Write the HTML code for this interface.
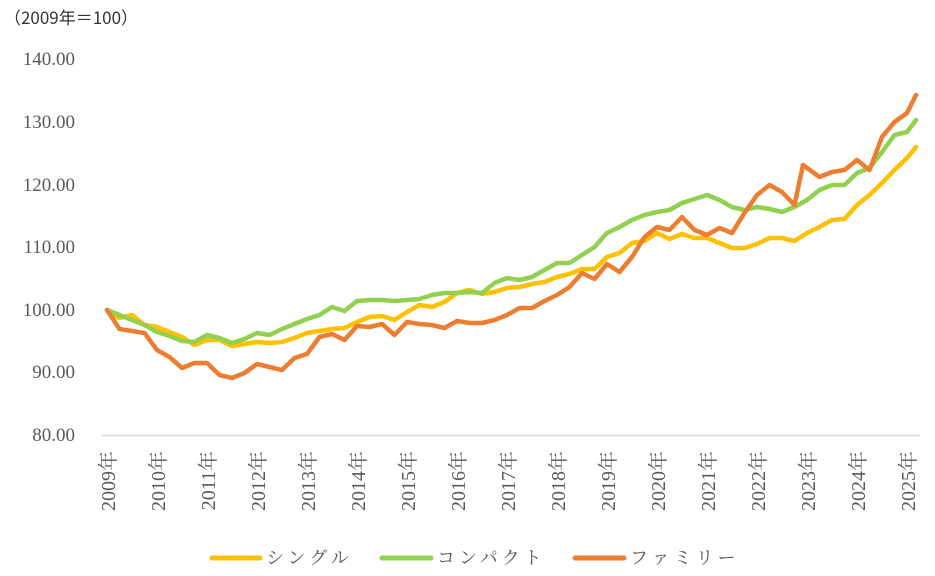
<!DOCTYPE html>
<html><head><meta charset="utf-8"><style>
html,body{margin:0;padding:0;background:#fff;}
svg{display:block;}
</style></head><body>
<svg width="935" height="576" viewBox="0 0 935 576" xmlns="http://www.w3.org/2000/svg">
<text x="4" y="24" font-family="Noto Sans CJK JP, sans-serif" font-size="17" fill="#333">（2009年＝100）</text>
<g font-family="Liberation Serif, serif" font-size="19" fill="#595959" text-anchor="end">
<text x="75" y="65">140.00</text>
<text x="75" y="128">130.00</text>
<text x="75" y="191">120.00</text>
<text x="75" y="253">110.00</text>
<text x="75" y="316">100.00</text>
<text x="75" y="378">90.00</text>
<text x="75" y="441">80.00</text>
</g>
<line x1="102" y1="435.5" x2="920" y2="435.5" stroke="#d9d9d9" stroke-width="1.5"/>
<g font-family="Liberation Serif, Noto Serif CJK SC, serif" font-size="20" fill="#595959" text-anchor="end">
<text transform="translate(115,451) rotate(-90)">2009年</text>
<text transform="translate(165,451) rotate(-90)">2010年</text>
<text transform="translate(215,451) rotate(-90)">2011年</text>
<text transform="translate(265,451) rotate(-90)">2012年</text>
<text transform="translate(315,451) rotate(-90)">2013年</text>
<text transform="translate(365,451) rotate(-90)">2014年</text>
<text transform="translate(415,451) rotate(-90)">2015年</text>
<text transform="translate(465,451) rotate(-90)">2016年</text>
<text transform="translate(515,451) rotate(-90)">2017年</text>
<text transform="translate(565,451) rotate(-90)">2018年</text>
<text transform="translate(615,451) rotate(-90)">2019年</text>
<text transform="translate(665,451) rotate(-90)">2020年</text>
<text transform="translate(715,451) rotate(-90)">2021年</text>
<text transform="translate(765,451) rotate(-90)">2022年</text>
<text transform="translate(815,451) rotate(-90)">2023年</text>
<text transform="translate(865,451) rotate(-90)">2024年</text>
<text transform="translate(915,451) rotate(-90)">2025年</text>
</g>
<g fill="none" stroke-width="4.5" stroke-linejoin="round" stroke-linecap="round">
<polyline stroke="#FFC000" points="107,310 119.5,318 132,315 144.5,325 157,327 169.5,332 182,337 194.5,345 207,340 219.5,340 232,346 244.5,344 257,342 269.5,343 282,342 294.5,338 307,333 319.5,331 332,329 344.5,328 357,322 369.5,317 382,316 394.5,320 407,312 419.5,305 432,307 444.5,302 457,293 469.5,290 482,294 494.5,292 507,288 519.5,287 532,284 544.5,282 557,277 569.5,274 582,269 594.5,269 607,257 619.5,253 632,243 644.5,241 657,233 669.5,239 682,234 694.5,238 707,238 719.5,243 732,248 744.5,248 757,244 769.5,238 782,238 794.5,241 807,233 819.5,227 832,220 844.5,219 857,205 869.5,195 882,183 894.5,170 907,158 916,147"/>
<polyline stroke="#92D050" points="107,310 119.5,315 132,320 144.5,325 157,332 169.5,336 182,341 194.5,342 207,335 219.5,338 232,343 244.5,339 257,333 269.5,335 282,329 294.5,324 307,319 319.5,315 332,307 344.5,311 357,301 369.5,300 382,300 394.5,301 407,300 419.5,299 432,295 444.5,293 457,293 469.5,292 482,293 494.5,283 507,278 519.5,280 532,277 544.5,270 557,263 569.5,263 582,255 594.5,247 607,233 619.5,227 632,220 644.5,215 657,212 669.5,210 682,203 694.5,199 707,195 719.5,200 732,207 744.5,210 757,207 769.5,209 782,212 794.5,207 807,200 819.5,190 832,185 844.5,185 857,173 869.5,168 882,152 894.5,135 907,132 916,120"/>
<polyline stroke="#ED7D31" points="107,310 119.5,329 132,331 144.5,333 157,350 169.5,357 182,368 194.5,363 207,363 219.5,375 232,378 244.5,373 257,364 269.5,367 282,370 294.5,358 307,354 319.5,337 332,334 344.5,340 357,326 369.5,327 382,324 394.5,335 407,322 419.5,324 432,325 444.5,328 457,321 469.5,323 482,323 494.5,320 507,315 519.5,308 532,308 544.5,301 557,295 569.5,287 582,273 594.5,279 607,264 619.5,272 632,257 644.5,237 657,227 669.5,230 682,217 694.5,230 707,235 719.5,228 732,233 744.5,213 757,195 769.5,185 782,192 794.5,205 803,165 819.5,177 832,172 844.5,170 857,160 869.5,170 882,137 894.5,122 907,113 916,95"/>
</g>
<g stroke-width="5" stroke-linecap="round">
<line x1="212" y1="558" x2="260" y2="558" stroke="#FFC000"/>
<line x1="382" y1="558" x2="431" y2="558" stroke="#92D050"/>
<line x1="575" y1="558" x2="624" y2="558" stroke="#ED7D31"/>
</g>
<g font-family="Noto Serif CJK SC, Noto Sans CJK JP, serif" font-size="18" fill="#595959" letter-spacing="4">
<text x="266" y="564">シングル</text>
<text x="437" y="564">コンパクト</text>
<text x="630" y="564">ファミリー</text>
</g>
</svg>
</body></html>
